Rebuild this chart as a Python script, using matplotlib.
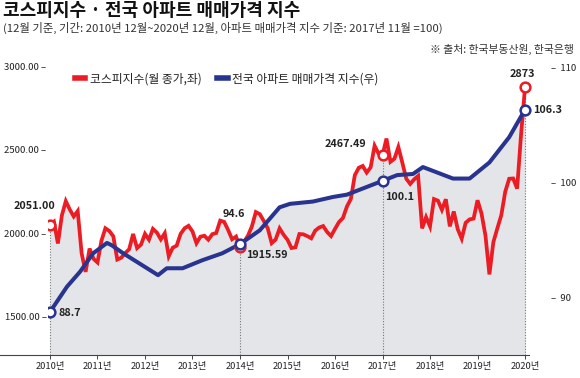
import numpy as np
import matplotlib
matplotlib.use("Agg")
import matplotlib.pyplot as plt

plt.rcParams['font.family'] = ['Noto Sans CJK KR', 'DejaVu Sans']

# KOSPI month-end close, Dec 2010 .. Dec 2020 (month index 0..120)
kospi = [2051.00,
         2069.73, 1939.30, 2106.70, 2192.36, 2142.47, 2100.69, 2133.21, 1880.11, 1769.65, 1909.03, 1847.51, 1825.74,
         1955.79, 2030.25, 2014.04, 1981.99, 1843.47, 1854.01, 1881.99, 1905.12, 1996.21, 1912.06, 1932.90, 1997.05,
         1961.94, 2026.49, 2004.89, 1963.95, 2001.05, 1863.32, 1914.03, 1926.36, 1996.96, 2030.09, 2044.87, 2011.34,
         1941.15, 1979.99, 1985.61, 1961.79, 1994.96, 2002.21, 2076.12, 2068.54, 2020.09, 1964.43, 1980.78, 1915.59,
         1949.26, 1985.80, 2041.03, 2127.17, 2114.80, 2074.20, 2030.16, 1941.49, 1962.81, 2029.47, 1991.97, 1961.31,
         1912.06, 1916.66, 1995.85, 1994.15, 1983.40, 1970.35, 2016.19, 2034.65, 2043.63, 2008.19, 1983.48, 2026.46,
         2067.57, 2091.64, 2160.23, 2205.44, 2347.38, 2391.79, 2402.71, 2363.19, 2394.47, 2523.43, 2476.37, 2467.49,
         2566.46, 2427.36, 2445.85, 2515.38, 2423.01, 2326.13, 2295.26, 2322.88, 2343.07, 2029.69, 2096.86, 2041.04,
         2204.85, 2195.44, 2140.67, 2203.59, 2041.74, 2130.62, 2024.55, 1967.79, 2063.05, 2083.48, 2087.96, 2197.67,
         2119.01, 1987.01, 1754.64, 1947.56, 2029.60, 2108.33, 2249.37, 2326.17, 2327.89, 2267.15, 2591.34, 2873.47]
kospi_m = np.arange(len(kospi))

# apartment price index (2017.11 = 100)
apt_m = [0, 4.3, 7.6, 10.9, 14.4, 15.6, 18.5, 27.3, 29.5, 33.5, 38.5, 43.5, 48,
         53, 58, 60.6, 66.4, 71.5, 75, 84, 87.7, 91.7, 94.2, 101.8, 106, 111, 116, 120]
apt = [88.7, 90.9, 92.2, 93.8, 94.7, 94.5, 93.8, 91.9, 92.5, 92.5, 93.2, 93.8, 94.6,
       95.8, 97.8, 98.1, 98.3, 98.7, 98.9, 100.1, 100.6, 100.7, 101.3, 100.3, 100.3, 101.7, 103.9, 106.3]

years = ['2010년', '2011년', '2012년', '2013년', '2014년', '2015년',
         '2016년', '2017년', '2018년', '2019년', '2020년']
left_ticks = [1500, 2000, 2500, 3000]
right_ticks = [90, 100, 110]

RED = '#ec1c24'
BLUE = '#29348f'
FILL = '#e4e5e8'
TXT = '#222222'

llo, lhi = 1272.9, 3035.9
rlo, rhi = 84.957, 110.609


def r2l(v):
    return llo + (np.asarray(v) - rlo) * (lhi - llo) / (rhi - rlo)


def l2r(v):
    return rlo + (np.asarray(v) - llo) * (rhi - rlo) / (lhi - llo)


fig = plt.figure(figsize=(5.8, 3.78), dpi=100)
ax = fig.add_axes([48 / 580, 23 / 378, 500 / 580, 295 / 378])
ax.set_xlim(-0.5, 125.8)
ax.set_ylim(llo, lhi)

# grey area under both lines
ax.fill_between(kospi_m, llo, kospi, color=FILL, lw=0, zorder=1)
ax.fill_between(apt_m, llo, r2l(apt), color=FILL, lw=0, zorder=1)

# dotted guides
for m, top in [(0, kospi[0]), (48, r2l(94.6)), (84, kospi[84]), (120, kospi[120])]:
    ax.plot([m, m], [llo, top], color='#777777', lw=0.8, ls=(0, (1, 1.5)), zorder=2)

l1, = ax.plot(kospi_m, kospi, color=RED, lw=2.7, solid_joinstyle='miter', zorder=3,
              label='코스피지수(월 종가,좌)')
l2, = ax.plot(apt_m, r2l(apt), color=BLUE, lw=2.9, solid_joinstyle='round', zorder=4,
              label='전국 아파트 매매가격 지수(우)')

# open circles
for m in [0, 48, 84, 120]:
    ax.plot(m, kospi[m], 'o', ms=7, mfc='white', mec=RED, mew=1.8, zorder=5)
for m, v in [(0, 88.7), (48, 94.6), (84, 100.1), (120, 106.3)]:
    ax.plot(m, r2l(v), 'o', ms=7, mfc='white', mec=BLUE, mew=1.8, zorder=6)

def label(txt, x, y, dx, dy, ha='center'):
    ax.annotate(txt, (x, y), xytext=(dx, dy), textcoords='offset pixels',
                ha=ha, va='center', fontsize=7.8, fontweight='bold', color=TXT, zorder=7)

label('2051.00', 0, kospi[0], -16, 19)
label('88.7', 0, r2l(88.7), 9, -1, ha='left')
label('94.6', 48, r2l(94.6), -6, 30)
label('1915.59', 48, kospi[48], 6, -8, ha='left')
label('2467.49', 84, kospi[84], -16, 11, ha='right')
label('100.1', 84, r2l(100.1), 3, -16, ha='left')
label('2873', 120, kospi[120], -3, 13)
label('106.3', 120, r2l(106.3), 8, 0, ha='left')

for s in ['top', 'right', 'left']:
    ax.spines[s].set_visible(False)
ax.spines['bottom'].set_color('#444444')
ax.spines['bottom'].set_linewidth(0.8)
ax.spines['bottom'].set_bounds(-13, 121)

ax.set_xticks([12 * i for i in range(len(years))])
ax.set_xticklabels(years, fontsize=6.7, color=TXT)
ax.tick_params(axis='x', length=3, width=0.7, color='#444444', pad=2)

ax.set_yticks(left_ticks)
ax.set_yticklabels(['%.2f –' % t for t in left_ticks], fontsize=6.9, color=TXT)
ax.tick_params(axis='y', length=0, pad=1)

sec = ax.secondary_yaxis('right', functions=(l2r, r2l))
sec.set_yticks(right_ticks)
sec.set_yticklabels(['–  %d' % t for t in right_ticks], fontsize=6.9, color=TXT)
sec.tick_params(length=0, pad=2)
sec.spines['right'].set_visible(False)

leg = ax.legend(handles=[l1, l2], ncol=2, frameon=False, fontsize=8.5,
                handlelength=0.9, handletextpad=0.4, columnspacing=1.3,
                loc='center left', bbox_to_anchor=(64 / 580, 1 - 79 / 378),
                bbox_transform=fig.transFigure, labelcolor=TXT)
for h in leg.legend_handles:
    h.set_linewidth(4)

fig.text(3 / 580, 1 - 11 / 378, '코스피지수 · 전국 아파트 매매가격 지수', fontsize=13,
         fontweight='bold', color='#111111', va='center', ha='left')
fig.text(3 / 580, 1 - 28 / 378,
         '(12월 기준, 기간: 2010년 12월~2020년 12월, 아파트 매매가격 지수 기준: 2017년 11월 =100)',
         fontsize=8.2, color='#333333', va='center', ha='left')
fig.text(574 / 580, 1 - 49 / 378, '※ 출처: 한국부동산원, 한국은행', fontsize=7.8,
         color='#333333', va='center', ha='right')

fig.savefig('out.png', dpi=100)
